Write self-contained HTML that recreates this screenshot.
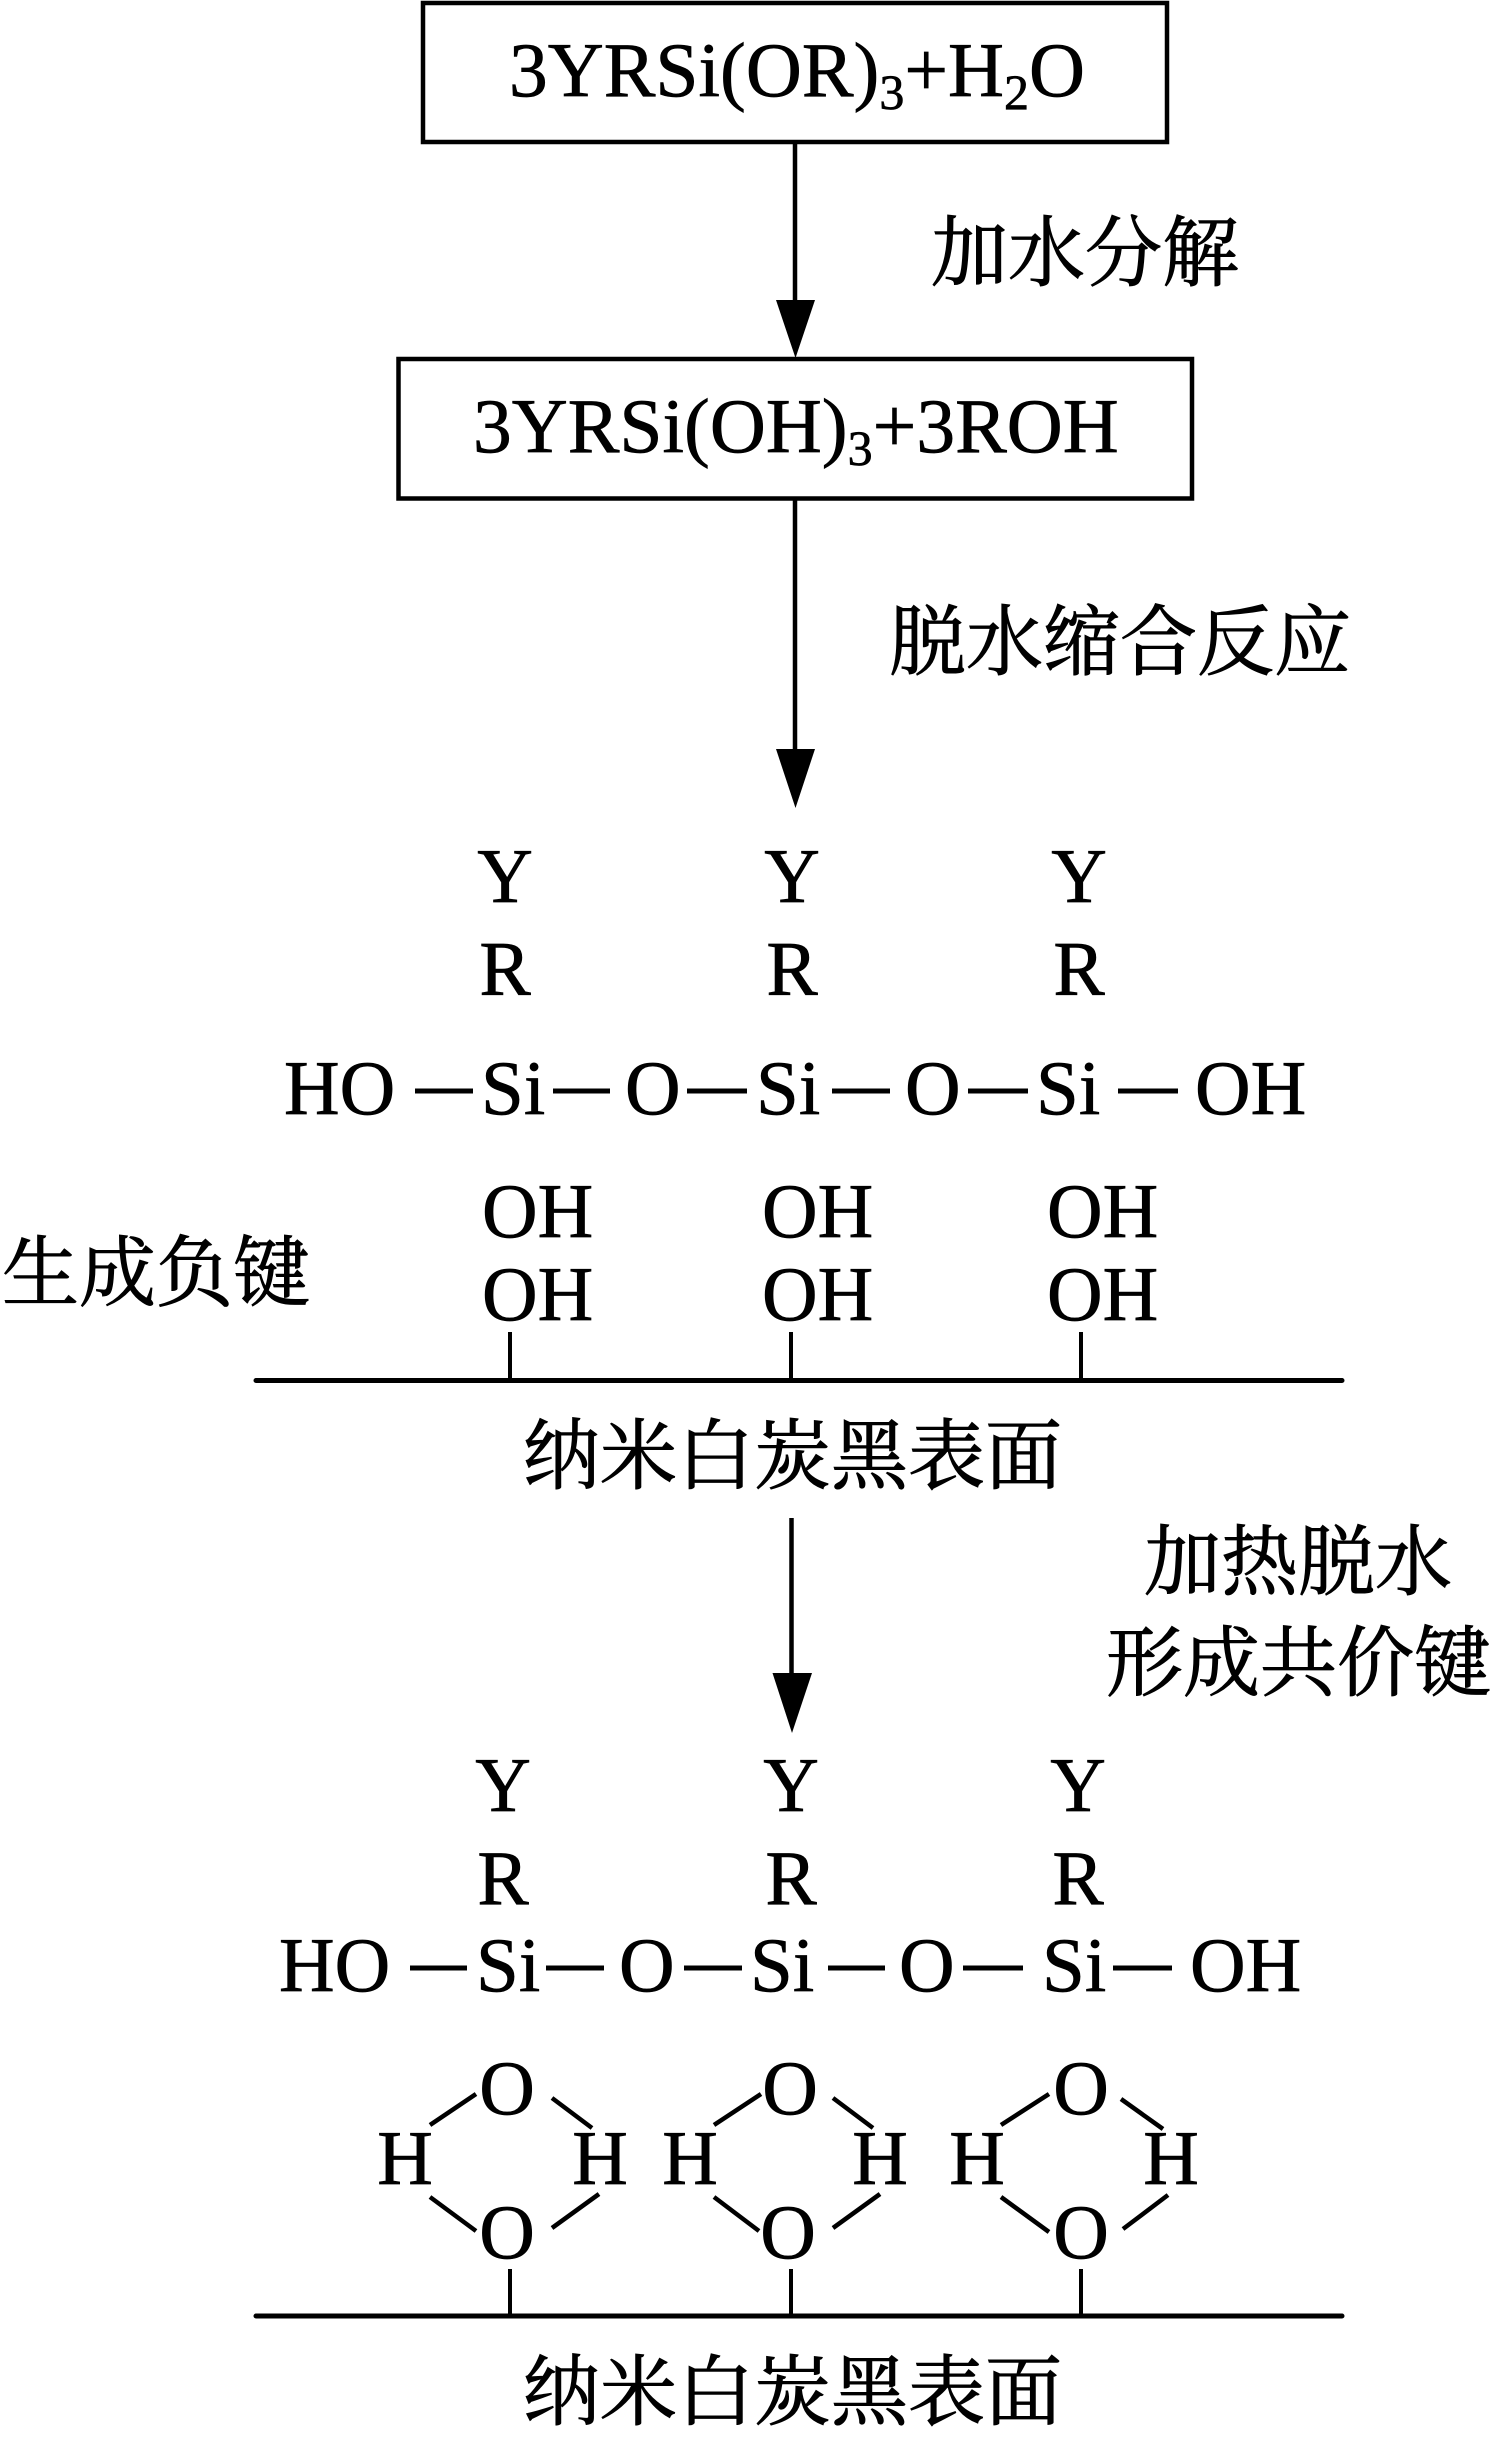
<!DOCTYPE html>
<html><head><meta charset="utf-8"><style>
html,body{margin:0;padding:0;background:#fff}
svg{display:block}
.t{font-family:"Liberation Serif",serif;font-size:77px;fill:#000;stroke:#000;stroke-width:.7px}
.c{font-family:"Liberation Serif","Noto Serif CJK SC",serif;font-size:77px;fill:#000;stroke:#000;stroke-width:1px}
</style></head><body>
<svg width="1492" height="2442" viewBox="0 0 1492 2442" xmlns="http://www.w3.org/2000/svg">
<g fill="none" stroke="#000" stroke-width="4.500">
<rect x="423" y="3" width="744" height="139"/>
<rect x="398.500" y="359" width="793.500" height="139.500"/>
<path d="M795 142V305M795 500V755M791.500 1518V1680" />
</g>
<g fill="#000">
<path d="M776 300H815L795.500 358Z"/>
<path d="M776 749H815L795.500 808Z"/>
<path d="M772.500 1673H812L792 1733Z"/>
</g>
<text class="t" x="509" y="96" style="font-size:77.500px">3YRSi(OR)<tspan dy="13" style="font-size:50px">3</tspan><tspan dy="-13">+H</tspan><tspan dy="13" style="font-size:50px">2</tspan><tspan dy="-13">O</tspan></text>
<text class="t" x="473" y="452" style="font-size:77.500px">3YRSi(OH)<tspan dy="13" style="font-size:50px">3</tspan><tspan dy="-13">+3ROH</tspan></text>
<text class="c" x="931" y="280">加水分解</text>
<text class="c" x="889" y="669">脱水缩合反应</text>

<g class="t" text-anchor="middle">
<text x="505" y="902">Y</text><text x="792" y="902">Y</text><text x="1079" y="902">Y</text>
<text x="505" y="994.500">R</text><text x="792" y="994.500">R</text><text x="1079" y="994.500">R</text>
</g>
<g class="t">
<text x="284" y="1114">HO</text><text x="481" y="1114">Si</text><text x="625" y="1114">O</text><text x="756" y="1114">Si</text><text x="905" y="1114">O</text><text x="1036" y="1114">Si</text><text x="1195" y="1114">OH</text>
<text x="482" y="1237">OH</text><text x="762" y="1237">OH</text><text x="1047" y="1237">OH</text>
<text x="482" y="1320">OH</text><text x="762" y="1320">OH</text><text x="1047" y="1320">OH</text>
</g>
<path d="M415 1091H473M553 1091H610M687 1091H747M832 1091H890M968 1091H1028M1118 1091H1178" stroke="#000" stroke-width="5" fill="none"/>
<text class="c" x="2" y="1300">生成负键</text>
<path d="M510 1332V1381M791 1332V1381M1081 1332V1381M510 2269V2316M791 2269V2316M1081 2269V2316" stroke="#000" stroke-width="4" fill="none"/>
<path d="M256 1380.500H1342M256 2316H1342" stroke="#000" stroke-width="5" stroke-linecap="round" fill="none"/>
<text class="c" x="523" y="1483">纳米白炭黑表面</text>
<text class="c" x="1144" y="1589">加热脱水</text>
<text class="c" x="1106" y="1690">形成共价键</text>

<g class="t" text-anchor="middle">
<text x="503" y="1811">Y</text><text x="791" y="1811">Y</text><text x="1078" y="1811">Y</text>
<text x="503" y="1904">R</text><text x="791" y="1904">R</text><text x="1078" y="1904">R</text>
<text x="507" y="2114">O</text><text x="790" y="2114">O</text><text x="1081" y="2114">O</text>
<text x="507" y="2258">O</text><text x="788" y="2258">O</text><text x="1081" y="2258">O</text>
<text x="405" y="2184">H</text><text x="600" y="2184">H</text><text x="690" y="2184">H</text><text x="880" y="2184">H</text><text x="977" y="2184">H</text><text x="1171" y="2184">H</text>
</g>
<g class="t">
<text x="279" y="1991">HO</text><text x="476" y="1991">Si</text><text x="619" y="1991">O</text><text x="750" y="1991">Si</text><text x="899" y="1991">O</text><text x="1042" y="1991">Si</text><text x="1190" y="1991">OH</text>
</g>
<path d="M410 1968H467M546 1968H604M684 1968H742M828 1968H885M963 1968H1023M1113 1968H1172" stroke="#000" stroke-width="5" fill="none"/>
<g stroke="#000" stroke-width="4.500" fill="none">
<path d="M430 2125L476 2094M552 2098L592 2128M430 2197L476 2231M599 2194L552 2228"/>
<path d="M714 2125L761 2094M833 2098L873 2128M714 2197L759 2231M880 2194L833 2228"/>
<path d="M1001 2125L1049 2094M1121 2099L1163 2129M1001 2197L1049 2232M1168 2195L1123 2229"/>
</g>
<text class="c" x="523" y="2419">纳米白炭黑表面</text>
</svg>
</body></html>
